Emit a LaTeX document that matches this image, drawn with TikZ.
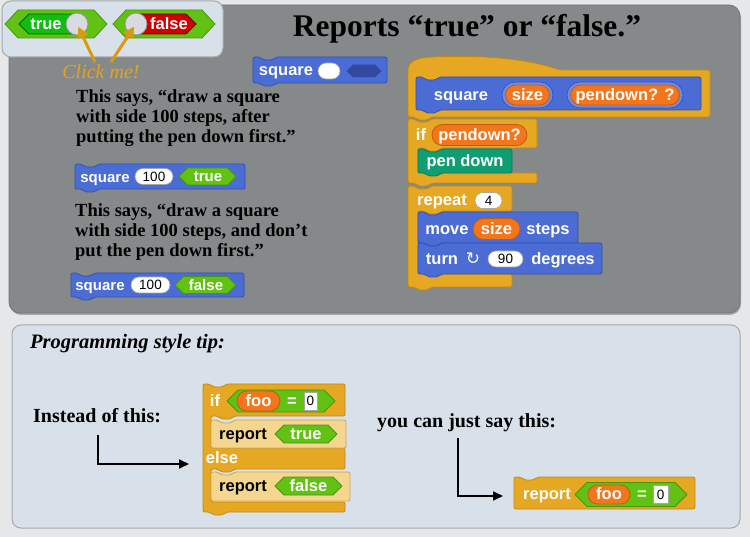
\documentclass[tikz,border=0pt]{standalone}
\usepackage{fontspec}
\setmainfont{Liberation Serif}
\newfontfamily\bsans{Liberation Sans}
\newfontfamily\symfont{DejaVu Sans}
\usetikzlibrary{arrows.meta}

\definecolor{pagebg}{HTML}{E6E7E8}
\definecolor{panelgray}{HTML}{85898A}
\definecolor{panellight}{HTML}{D8E1E9}
\definecolor{panelline}{HTML}{A4A9AD}
\definecolor{motion}{HTML}{4A6CD4}
\definecolor{motionedge}{HTML}{3350B0}
\definecolor{ringblue}{HTML}{6F8BE4}
\definecolor{control}{HTML}{E6A822}
\definecolor{controledge}{HTML}{BF8A14}
\definecolor{zebra}{HTML}{F4D68F}
\definecolor{zebraedge}{HTML}{C9A458}
\definecolor{oper}{HTML}{62C213}
\definecolor{operedge}{HTML}{4A9510}
\definecolor{varcol}{HTML}{F3761D}
\definecolor{varedge}{HTML}{C45A10}
\definecolor{pencol}{HTML}{0E9E72}
\definecolor{penedge}{HTML}{0A7A58}
\definecolor{clickcol}{HTML}{E9A21B}
\definecolor{arrowgold}{HTML}{D89B0E}
\definecolor{knob}{HTML}{DADBE0}
\definecolor{knobedge}{HTML}{8E9096}
\definecolor{slotdark}{HTML}{34499E}
\definecolor{truegreen}{HTML}{12BC12}
\definecolor{falsered}{HTML}{D00000}

% command block: x1 y1 x2 y2 style
\newcommand\cmdblock[5]{\filldraw[#5] (#1,#2) -- (#1+7,#2) -- (#1+10,#2+3) -- (#1+20,#2+3) -- (#1+23,#2) -- (#3,#2) -- (#3,#4) -- (#1+23,#4) -- (#1+20,#4+3) -- (#1+10,#4+3) -- (#1+7,#4) -- (#1,#4) -- cycle;}
% cap block (flat bottom)
\newcommand\capblock[5]{\filldraw[#5] (#1,#2) -- (#1+7,#2) -- (#1+10,#2+3) -- (#1+20,#2+3) -- (#1+23,#2) -- (#3,#2) -- (#3,#4) -- (#1,#4) -- cycle;}
% boolean hexagon: x1 x2 yc hh style
\newcommand\hexslot[5]{\filldraw[#5] (#1,#3) -- (#1+#4,#3-#4) -- (#2-#4,#3-#4) -- (#2,#3) -- (#2-#4,#3+#4) -- (#1+#4,#3+#4) -- cycle;}
% rounded slot: x1 x2 yc hh style
\newcommand\ovalslot[5]{\filldraw[#5, rounded corners=#4pt] (#1,#3-#4) rectangle (#2,#3+#4);}

\begin{document}
\begin{tikzpicture}[x=1pt,y=-1pt,
  blk/.style={line width=0.8pt, rounded corners=2pt, line join=round},
  motionblk/.style={blk, fill=motion, draw=motionedge},
  controlblk/.style={blk, fill=control, draw=controledge},
  zebrablk/.style={blk, fill=zebra, draw=zebraedge},
  penblk/.style={blk, fill=pencol, draw=penedge},
  operslot/.style={fill=oper, draw=operedge, line width=0.8pt, line join=round},
  varslot/.style={fill=varcol, draw=varedge, line width=0.8pt},
  whiteslot/.style={fill=white, draw=black!35, line width=0.6pt},
  btxt/.style={inner sep=0pt, text height=12.5pt, text depth=2pt, text=white,
    font=\bsans\bfseries\fontsize{16.5}{17}\selectfont},
  stxt/.style={btxt, font=\bsans\bfseries\fontsize{15}{16}\selectfont},
  ntxt/.style={inner sep=0pt, text height=11pt, text depth=1.5pt, text=black,
    font=\bsans\fontsize{13.5}{14}\selectfont},
  para/.style={anchor=base west, inner sep=0pt, text=black,
    font=\bfseries\fontsize{18.5}{20}\selectfont},
  linkarrow/.style={line width=1.8pt, -{Triangle[length=10pt,width=9pt]}}
]
\fill[pagebg] (0,0) rectangle (750,537);
\useasboundingbox (0,0) rectangle (750,537);

% ---------- top gray panel ----------
\fill[black!35, rounded corners=11pt] (10,7) rectangle (741,315);
\filldraw[fill=panelgray, draw=panelgray!85!black, line width=0.8pt, rounded corners=11pt] (9,5) rectangle (740,313);

% ---------- toggle box ----------
\filldraw[fill=panellight, draw=panelline, line width=1pt, rounded corners=9pt] (2,1) rectangle (223,57);
% true toggle
\filldraw[fill=oper, draw=operedge, line width=0.8pt] (5,24) -- (18,10) -- (94,10) -- (107,24) -- (94,38) -- (18,38) -- cycle;
\filldraw[fill=truegreen, draw=green!40!black, line width=0.8pt] (19,24) -- (29,14) -- (80,14) -- (80,34) -- (29,34) -- cycle;
\node[btxt] (ttrue) at (46,24) {true};
\node[circle, minimum size=22pt, inner sep=0pt, fill=knob, draw=knobedge, line width=0.8pt] (knobT) at (77,24) {};
% false toggle
\filldraw[fill=oper, draw=operedge, line width=0.8pt] (113,24) -- (126,10) -- (202,10) -- (215,24) -- (202,38) -- (126,38) -- cycle;
\filldraw[fill=falsered, draw=red!40!black, line width=0.8pt] (136,14) -- (186,14) -- (196,24) -- (186,34) -- (136,34) -- cycle;
\node[btxt] (tfalse) at (169,24) {false};
\node[circle, minimum size=22pt, inner sep=0pt, fill=knob, draw=knobedge, line width=0.8pt] (knobF) at (136,24) {};

\node[inner sep=0pt, text=clickcol, font=\itshape\fontsize{20}{20}\selectfont] (click) at (101,72) {Click me!};
\coordinate (clickL) at (95,62);
\coordinate (clickR) at (111,62);
\draw[arrowgold, line width=3pt, -{Triangle[length=11pt,width=11pt]}, shorten >=3pt] (clickL) -- (knobT.center);
\draw[arrowgold, line width=3pt, -{Triangle[length=11pt,width=11pt]}, shorten >=3pt] (clickR) -- (knobF.center);

% ---------- title ----------
\node[anchor=base, inner sep=0pt, font=\bfseries\fontsize{31.5}{32}\selectfont] (title) at (467,37) {Reports “true” or “false.”};

% ---------- square prototype block ----------
\cmdblock{253}{57}{387}{83}{motionblk}
\node[btxt] (sq0) at (286,70) {square};
\ovalslot{318}{340}{71}{8}{whiteslot}
\hexslot{347}{381}{71}{6}{fill=slotdark, draw=motionedge, line width=0.6pt}

% ---------- paragraphs ----------
\node[para] (p1a) at (76,103) {This says, “draw a square};
\node[para] (p1b) at (76,123) {with side 100 steps, after};
\node[para] (p1c) at (76,143) {putting the pen down first.”};

\cmdblock{75}{164}{245}{189}{motionblk}
\node[stxt] (sq1) at (105,177) {square};
\ovalslot{135}{173}{176.5}{8}{whiteslot}
\node[ntxt] (n1) at (154,176.5) {100};
\hexslot{179}{236}{176.5}{8.5}{operslot}
\node[stxt] (tr1) at (208,176.5) {true};

\node[para] (p2a) at (75,217) {This says, “draw a square};
\node[para] (p2b) at (75,237) {with side 100 steps, and don’t};
\node[para] (p2c) at (75,257) {put the pen down first.”};

\cmdblock{71}{273}{244}{297}{motionblk}
\node[stxt] (sq2) at (100,285) {square};
\ovalslot{131}{170}{285}{8}{whiteslot}
\node[ntxt] (n2) at (150.5,285) {100};
\hexslot{175}{236}{285}{8.5}{operslot}
\node[stxt] (fa2) at (206,285) {false};

% ---------- definition script ----------
\filldraw[controlblk] (408,117) -- (408,72) .. controls (408,62) and (416,58) .. (432,57) .. controls (480,55) and (525,58) .. (560,70) -- (710,70) -- (710,117) -- (431,117) -- (428,120) -- (418,120) -- (415,117) -- cycle;
\cmdblock{416}{77}{701}{110}{motionblk}
\node[btxt] (sq3) at (461,95) {square};
\ovalslot{502}{553}{95}{13}{fill=ringblue, draw=motionedge, line width=0.6pt}
\ovalslot{505.5}{549.5}{95}{10}{varslot}
\node[btxt] (sz1) at (527.5,95) {size};
\ovalslot{567}{683}{95}{13}{fill=ringblue, draw=motionedge, line width=0.6pt}
\ovalslot{570.5}{679.5}{95}{10}{varslot}
\node[btxt] (pd1) at (625,95) {pendown? ?};

% if block
\filldraw[controlblk] (408,119) -- (415,119) -- (418,122) -- (428,122) -- (431,119) -- (537,119) -- (537,148) -- (441,148) -- (438,151) -- (428,151) -- (425,148) -- (418,148) -- (418,173) -- (537,173) -- (537,183) -- (431,183) -- (428,186) -- (418,186) -- (415,183) -- (408,183) -- cycle;
\node[btxt] (if1) at (421,135) {if};
\ovalslot{432}{527}{135}{10.5}{varslot}
\node[btxt] (pd2) at (479.5,135) {pendown?};
\cmdblock{418}{149}{512}{173}{penblk}
\node[btxt] (pen) at (465,161) {pen down};

% repeat block
\filldraw[controlblk] (408,186) -- (415,186) -- (418,189) -- (428,189) -- (431,186) -- (512,186) -- (512,211) -- (441,211) -- (438,214) -- (428,214) -- (425,211) -- (418,211) -- (418,274) -- (512,274) -- (512,287) -- (431,287) -- (428,290) -- (418,290) -- (415,287) -- (408,287) -- cycle;
\node[btxt] (rep) at (442,200) {repeat};
\ovalslot{475}{502}{200.5}{8}{whiteslot}
\node[ntxt] (n4) at (488.5,200.5) {4};
\cmdblock{418}{212}{578}{243}{motionblk}
\node[btxt] (mv) at (447,229) {move};
\ovalslot{473}{520}{229}{10.5}{varslot}
\node[btxt] (sz2) at (496.5,229) {size};
\node[btxt] (st) at (548,229) {steps};
\cmdblock{418}{243}{602}{274}{motionblk}
\node[btxt] (tn) at (442,259) {turn};
\node[inner sep=0pt, text=white, font=\symfont\fontsize{17}{17}\selectfont] (rot) at (473,259) {↻};
\ovalslot{488}{523}{259}{8}{whiteslot}
\node[ntxt] (n90) at (505.5,259) {90};
\node[btxt] (dg) at (563,259) {degrees};

% ---------- bottom panel ----------
\filldraw[fill=panellight, draw=panelline, line width=1pt, rounded corners=9pt] (12,325) rectangle (740,528);
\node[anchor=base west, inner sep=0pt, font=\bfseries\itshape\fontsize{20.5}{21}\selectfont] (tip) at (30,349) {Programming style tip:};
\node[para, font=\bfseries\fontsize{20}{20}\selectfont] (instead) at (33,422) {Instead of this:};
\node[para, font=\bfseries\fontsize{20}{20}\selectfont] (canjust) at (377,427) {you can just say this:};

% if-else block
\filldraw[controlblk] (203,384) -- (210,384) -- (213,387) -- (223,387) -- (226,384) -- (345,384) -- (345,416) -- (234,416) -- (231,419) -- (221,419) -- (218,416) -- (211,416) -- (211,448) -- (345,448) -- (345,469) -- (234,469) -- (231,472) -- (221,472) -- (218,469) -- (211,469) -- (211,502) -- (345,502) -- (345,512) -- (226,512) -- (223,515) -- (213,515) -- (210,512) -- (203,512) -- cycle;
\node[btxt] (if2) at (215,401) {if};
\hexslot{227}{335}{401}{11}{operslot}
\ovalslot{237}{280}{401}{10}{varslot}
\node[btxt] (foo1) at (258.5,401) {foo};
\node[btxt] (eq1) at (292,401) {=};
\filldraw[whiteslot] (304,392) rectangle (317,410);
\node[ntxt] (z1) at (310.5,401) {0};
\capblock{211}{420}{346}{448}{zebrablk}
\node[btxt, text=black] (rt) at (243,434) {report};
\hexslot{275}{337}{434}{9}{operslot}
\node[btxt] (tr2) at (306,434) {true};
\node[btxt] (else) at (222,458) {else};
\capblock{211}{472}{350}{501}{zebrablk}
\node[btxt, text=black] (rf) at (243,486) {report};
\hexslot{275}{342}{486}{9}{operslot}
\node[btxt] (fa3) at (308.5,486) {false};

% simplified report block
\capblock{514}{477}{695}{509}{controlblk}
\node[btxt] (rep2) at (547,494.5) {report};
\hexslot{575}{687}{494.5}{12}{operslot}
\ovalslot{588}{630}{494.5}{9.5}{varslot}
\node[btxt] (foo2) at (609,494.5) {foo};
\node[btxt] (eq2) at (642,494.5) {=};
\filldraw[whiteslot] (653,485.5) rectangle (668,503.5);
\node[ntxt] (z2) at (660.5,494.5) {0};

% arrows
\coordinate (a1s) at (98,435);
\coordinate (a1e) at (189,464);
\draw[linkarrow] (a1s) |- (a1e);
\coordinate (a2s) at (458,438);
\coordinate (a2e) at (503,496);
\draw[linkarrow] (a2s) |- (a2e);
\end{tikzpicture}
\end{document}
